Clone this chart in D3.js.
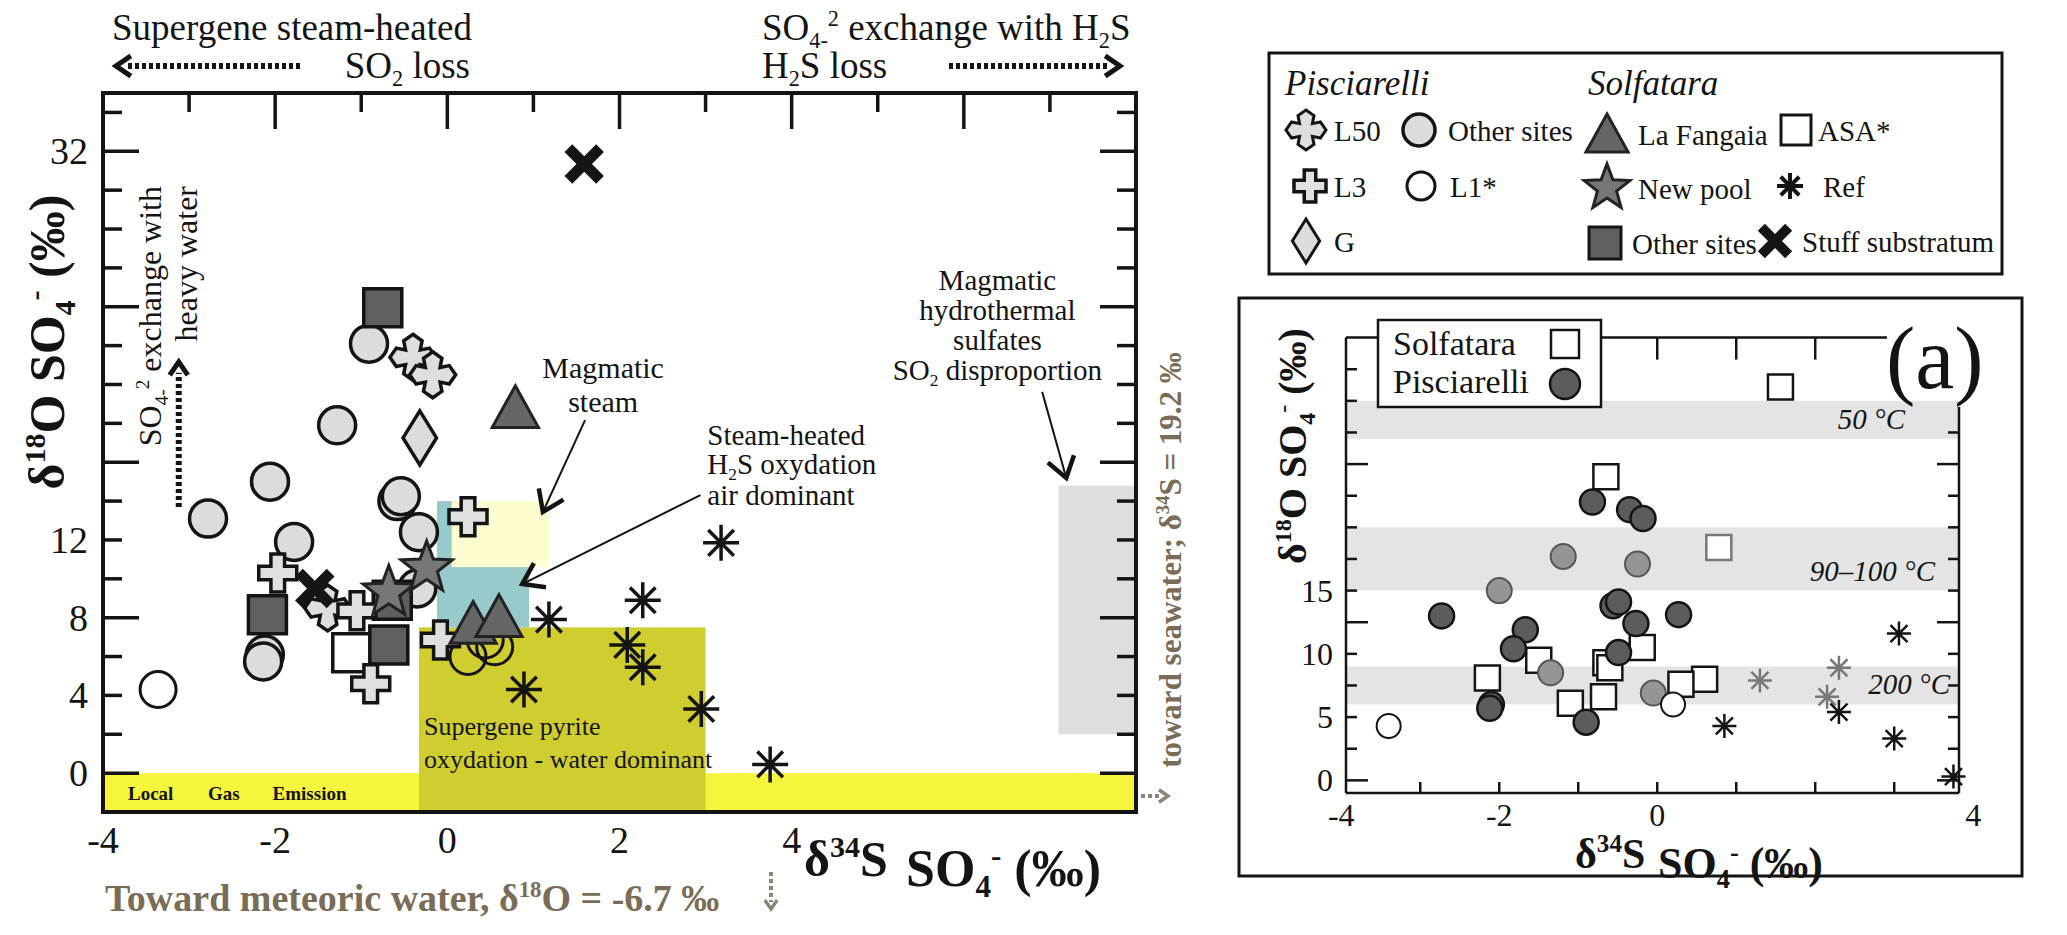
<!DOCTYPE html>
<html>
<head>
<meta charset="utf-8">
<script src="https://d3js.org/d3.v7.min.js"></script>
<style>
  body { margin: 0; background: #fff; }
  svg { display: block; }
  text { font-family: "Liberation Serif", "Times New Roman", serif; }
</style>
</head>
<body>
<svg width="2067" height="935"></svg>
<script>
// ---------- left panel data: [d34S, d18O] ----------
var l50 = [[-0.40, 21.4], [-0.17, 20.5], [-1.39, 8.5]];
var l3 = [[-1.97, 10.3], [-1.05, 8.35], [-0.89, 4.6], [-0.08, 6.85], [0.24, 13.2]];
var gSite = [[-0.32, 17.25]];
var pisOther = [[-0.91, 22.1], [-1.28, 17.9], [-2.06, 15.0], [-2.78, 13.1], [-0.58, 14.0], [-0.54, 14.25],
                [-0.33, 12.4], [-1.78, 11.9], [-2.12, 6.1], [-2.14, 5.75], [-0.35, 9.5]];
var l1 = [[-3.36, 4.3], [0.24, 6.0], [0.44, 6.85], [0.55, 6.5]];
var fangaia = [[0.79, 18.8], [0.30, 7.7], [0.60, 8.05]];
var newPool = [[-0.68, 9.3], [-0.24, 10.55]];
var asa = [[-1.11, 6.2]];
var solOther = [[-0.75, 23.95], [-2.09, 8.15], [-0.68, 6.6], [-0.64, 8.9]];
var ref = [[1.18, 7.9], [2.27, 8.9], [3.18, 11.85], [2.09, 6.6], [2.27, 5.45], [0.89, 4.3], [2.95, 3.3], [3.75, 0.45]];
var stuff = [[1.59, 31.35], [-1.54, 9.5]];

// zones [x0, x1, y0, y1]
var gasZone = [-4, 8, -2, 0];
var pyriteZone = [-0.33, 3.0, -2, 7.5];
var airZone = [-0.12, 0.95, 7.5, 14];
var steamZone = [0.05, 1.18, 10.6, 14];
var hydroZone = [7.1, 8, 2, 14.8];

var xTickLabels = [-4, -2, 0, 2, 4];
var yTickLabels = [0, 4, 8, 12, 32];

// ---------- right panel (a) data ----------
var rSolf = [[1.56, 31.1], [-0.65, 24.0], [-1.5, 9.5], [-2.15, 8.1], [-1.1, 6.1], [-0.65, 9.3], [-0.19, 10.5],
             [-0.6, 8.9], [-0.68, 6.6], [0.6, 8.0], [0.3, 7.6]];
var rSolfGrey = [[0.78, 18.4]];
var rPisDark = [[-0.82, 22.0], [-0.35, 21.4], [-0.18, 20.7], [-2.73, 13.0], [-1.67, 11.9], [-1.82, 10.4],
                [-0.56, 13.8], [-0.49, 14.1], [-0.27, 12.4], [0.27, 13.1], [-0.49, 10.1], [-2.1, 6.0],
                [-2.12, 5.7], [-0.9, 4.6]];
var rPisGrey = [[-1.19, 17.7], [-0.25, 17.1], [-2.0, 15.0], [-1.35, 8.5], [-0.05, 6.9]];
var rOpen = [[-3.4, 4.3], [0.2, 6.0]];
var rRefGrey = [[1.3, 7.9], [2.15, 6.6], [2.3, 8.9]];
var rRefBlack = [[0.85, 4.3], [2.3, 5.4], [3.06, 11.6], [3.0, 3.3], [3.75, 0.3]];
var rBands = [[6, 9, "200 °C"], [15, 20, "90–100 °C"], [27, 30, "50 °C"]];
var rXTickLabels = [-4, -2, 0, 4];
var rYTickLabels = [0, 5, 10, 15];

var svg = d3.select("svg");
var ink = "#141414";
var brown = "#7b6c57";

var x = d3.scaleLinear().domain([-4, 8]).range([103, 1136]);
var y = d3.scaleLinear().domain([-2, 35]).range([812, 93]);
var xr = d3.scaleLinear().domain([-3.94, 3.82]).range([1346, 1959]);
var yr = d3.scaleLinear().domain([-1, 35]).range([793, 337.6]);

// text with sub / superscripts
function rich(g, px, py, parts, o) {
  var t = g.append("text").attr("x", px).attr("y", py)
    .attr("font-size", o.size).attr("text-anchor", o.anchor || "start")
    .attr("font-weight", o.weight || "normal").attr("font-style", o.italic ? "italic" : "normal")
    .attr("fill", o.fill || ink);
  if (o.rotate) t.attr("transform", "rotate(" + o.rotate + "," + px + "," + py + ")");
  var cur = 0;
  parts.forEach(function (p) {
    var txt = typeof p === "string" ? p : p[0];
    var k = typeof p === "string" ? "n" : p[1];
    var off = k === "sub" ? 0.22 * o.size : k === "sup" ? -0.38 * o.size : 0;
    t.append("tspan").attr("dy", off - cur).attr("font-size", k === "n" ? o.size : o.size * 0.6).text(txt);
    cur = off;
  });
  return t;
}

function shapePath(type, s) {
  var p;
  if (type === "circle") return d3.symbol(d3.symbolCircle, Math.PI * s * s)();
  if (type === "square") return d3.symbol(d3.symbolSquare, 4 * s * s)();
  if (type === "diamond") p = [[0, -s], [0.62 * s, 0], [0, s], [-0.62 * s, 0]];
  if (type === "triangle") p = [[0, -s], [1.05 * s, 0.9 * s], [-1.05 * s, 0.9 * s]];
  if (type === "plus") {
    var w = 0.36 * s;
    p = [[-w, -s], [w, -s], [w, -w], [s, -w], [s, w], [w, w], [w, s], [-w, s], [-w, w], [-s, w], [-s, -w], [-w, -w]];
  }
  if (type === "l50") {
    p = [[0, -1], [0.4, -0.72], [0.32, -0.32], [0.72, -0.4], [1, 0], [0.72, 0.4], [0.32, 0.32], [0.4, 0.72],
         [0, 1], [-0.4, 0.72], [-0.32, 0.32], [-0.72, 0.4], [-1, 0], [-0.72, -0.4], [-0.32, -0.32], [-0.4, -0.72]]
      .map(function (q) { return [q[0] * s, q[1] * s]; });
  }
  if (type === "star") {
    p = d3.range(10).map(function (i) {
      var a = -Math.PI / 2 + i * Math.PI / 5, r = i % 2 ? 0.42 * s : s;
      return [r * Math.cos(a), r * Math.sin(a)];
    });
  }
  if (type === "x") {
    var a = 0.72 * s;
    return "M" + -a + "," + -a + "L" + a + "," + a + "M" + a + "," + -a + "L" + -a + "," + a;
  }
  if (type === "ast") {
    var d = 0.71 * s;
    return "M" + -s + ",0L" + s + ",0M0," + -s + "L0," + s + "M" + -d + "," + -d + "L" + d + "," + d +
           "M" + d + "," + -d + "L" + -d + "," + d;
  }
  return "M" + p.join("L") + "Z";
}

function drawMarks(g, data, xs, ys, type, s, fill, stroke, sw) {
  g.selectAll(null).data(data).enter().append("path")
    .attr("transform", function (d) { return "translate(" + xs(d[0]) + "," + ys(d[1]) + ")"; })
    .attr("d", shapePath(type, s))
    .attr("fill", fill).attr("stroke", stroke).attr("stroke-width", sw);
}

function mark(g, px, py, type, s, fill, stroke, sw) {
  g.append("path").attr("transform", "translate(" + px + "," + py + ")")
    .attr("d", shapePath(type, s)).attr("fill", fill).attr("stroke", stroke).attr("stroke-width", sw);
}

function head(g, x1, y1, x2, y2, len, sw, col) {
  var ang = Math.atan2(y2 - y1, x2 - x1);
  var p1 = [x2 - len * Math.cos(ang - 0.6), y2 - len * Math.sin(ang - 0.6)];
  var p2 = [x2 - len * Math.cos(ang + 0.6), y2 - len * Math.sin(ang + 0.6)];
  g.append("path").attr("d", "M" + p1 + "L" + [x2, y2] + "L" + p2)
    .attr("fill", "none").attr("stroke", col).attr("stroke-width", sw);
}

function arrow(g, x1, y1, x2, y2) {
  g.append("line").attr("x1", x1).attr("y1", y1).attr("x2", x2).attr("y2", y2)
    .attr("stroke", ink).attr("stroke-width", 2);
  head(g, x1, y1, x2, y2, 24, 4.5, ink);
}

function dotted(g, x1, y1, x2, y2, col, sw) {
  g.append("line").attr("x1", x1).attr("y1", y1).attr("x2", x2).attr("y2", y2)
    .attr("stroke", col).attr("stroke-width", sw).attr("stroke-dasharray", "4,3");
}

// ================= LEFT PANEL =================
var L = svg.append("g");

function zone(z, fill) {
  L.append("rect").attr("x", x(z[0])).attr("y", y(z[3]))
    .attr("width", x(z[1]) - x(z[0])).attr("height", y(z[2]) - y(z[3])).attr("fill", fill);
}
zone(gasZone, "#f6f53e");
zone(hydroZone, "#dedede");
zone(pyriteZone, "#cfcd2f");
zone(airZone, "#97cbcb");
zone(steamZone, "#fdfdd0");

// ticks
d3.range(-3, 8, 1).forEach(function (v) {
  L.append("line").attr("x1", x(v)).attr("x2", x(v)).attr("y1", y(35)).attr("y2", y(35) + (v % 2 === 0 ? 36 : 19))
    .attr("stroke", ink).attr("stroke-width", 3.5);
});
d3.range(0, 35, 2).forEach(function (v) {
  var len = v % 8 === 0 ? 36 : 19;
  L.append("line").attr("x1", x(-4)).attr("x2", x(-4) + len).attr("y1", y(v)).attr("y2", y(v))
    .attr("stroke", ink).attr("stroke-width", 3.5);
  L.append("line").attr("x1", x(8)).attr("x2", x(8) - len).attr("y1", y(v)).attr("y2", y(v))
    .attr("stroke", ink).attr("stroke-width", 3.5);
});

// zone labels
rich(L, x(-0.27), y(1.96), ["Supergene pyrite"], { size: 26 });
rich(L, x(-0.27), y(0.26), ["oxydation - water dominant"], { size: 26 });
[["Local", -3.71], ["Gas", -2.78], ["Emission", -2.03]].forEach(function (d) {
  rich(L, x(d[1]), y(-1.38), [d[0]], { size: 19, weight: "bold" });
});

// markers
drawMarks(L, pisOther, x, y, "circle", 18.5, "#dcdcdc", ink, 3.5);
drawMarks(L, l1, x, y, "circle", 18, "none", ink, 3);
drawMarks(L, l50, x, y, "l50", 23, "#dedede", ink, 3.5);
drawMarks(L, gSite, x, y, "diamond", 27, "#dcdcdc", ink, 3.5);
drawMarks(L, asa, x, y, "square", 19, "#fff", ink, 3.5);
drawMarks(L, solOther, x, y, "square", 19, "#5f5f5f", ink, 3.5);
drawMarks(L, l3, x, y, "plus", 19, "#e0e0e0", ink, 3.5);
drawMarks(L, fangaia, x, y, "triangle", 22, "#666", "#222", 3);
drawMarks(L, newPool, x, y, "star", 27, "#777", "#222", 3);
drawMarks(L, stuff, x, y, "x", 22, "none", "#151515", 11);
drawMarks(L, ref, x, y, "ast", 18, "none", ink, 3.5);

// annotations inside plot
rich(L, x(1.81), y(20.34), ["Magmatic"], { size: 30, anchor: "middle" });
rich(L, x(1.81), y(18.59), ["steam"], { size: 30, anchor: "middle" });
arrow(L, x(1.60), y(18.17), x(1.11), y(13.44));

rich(L, x(3.02), y(16.89), ["Steam-heated"], { size: 29 });
rich(L, x(3.02), y(15.40), ["H", ["2", "sub"], "S oxydation"], { size: 29 });
rich(L, x(3.02), y(13.80), ["air dominant"], { size: 29 });
arrow(L, x(2.94), y(14.31), x(0.87), y(9.73));

rich(L, x(6.39), y(24.87), ["Magmatic"], { size: 29, anchor: "middle" });
rich(L, x(6.39), y(23.32), ["hydrothermal"], { size: 29, anchor: "middle" });
rich(L, x(6.39), y(21.78), ["sulfates"], { size: 29, anchor: "middle" });
rich(L, x(6.39), y(20.23), ["SO", ["2", "sub"], " disproportion"], { size: 29, anchor: "middle" });
arrow(L, x(6.91), y(19.62), x(7.19), y(15.19));

// heavy water exchange
dotted(L, x(-3.12), y(13.7), x(-3.12), y(20.6), ink, 6);
head(L, x(-3.12), y(13.7), x(-3.12), y(21.16), 16, 5, ink);
rich(L, 161, 186, ["SO", ["4-", "sub"], ["2", "sup"], " exchange with"], { size: 32, anchor: "end", rotate: -90 });
rich(L, 197, 186, ["heavy water"], { size: 32, anchor: "end", rotate: -90 });

// frame
L.append("rect").attr("x", x(-4)).attr("y", y(35)).attr("width", x(8) - x(-4)).attr("height", y(-2) - y(35))
  .attr("fill", "none").attr("stroke", ink).attr("stroke-width", 4);

// tick labels
xTickLabels.forEach(function (v) {
  L.append("text").attr("x", x(v)).attr("y", 853).attr("text-anchor", "middle")
    .attr("font-size", 38).attr("fill", ink).text(String(v));
});
yTickLabels.forEach(function (v) {
  L.append("text").attr("x", 88).attr("y", y(v) + 13).attr("text-anchor", "end")
    .attr("font-size", 38).attr("fill", ink).text(String(v));
});

// axis titles
rich(L, 804, 876, ["δ", ["34", "sup"], "S"], { size: 50, weight: "bold" });
rich(L, 906, 886, ["SO", ["4", "sub"], ["-", "sup"], " (‰)"], { size: 52, weight: "bold" });
rich(L, 64, 342, ["δ", ["18", "sup"], "O SO", ["4", "sub"], ["-", "sup"], " (‰)"],
  { size: 50, weight: "bold", anchor: "middle", rotate: -90 });

// top texts
rich(L, 112, 40, ["Supergene steam-heated"], { size: 37 });
rich(L, 470, 78, ["SO", ["2", "sub"], " loss"], { size: 37, anchor: "end" });
dotted(L, 300, 66, 126, 66, ink, 6);
head(L, 300, 66, 116, 66, 18, 5, ink);
rich(L, 762, 40, ["SO", ["4-", "sub"], ["2", "sup"], " exchange with H", ["2", "sub"], "S"], { size: 37 });
rich(L, 762, 78, ["H", ["2", "sub"], "S loss"], { size: 37 });
dotted(L, 949, 66, 1110, 66, ink, 6);
head(L, 949, 66, 1120, 66, 18, 5, ink);

// seawater / meteoric notes
rich(L, 1181, 560, ["toward seawater; δ", ["34", "sup"], "S = 19.2 ‰"],
  { size: 31, weight: "bold", anchor: "middle", rotate: -90, fill: brown });
dotted(L, 1141, 796, 1162, 796, "#8c8578", 4);
head(L, 1141, 796, 1168, 796, 11, 3.5, "#8c8578");
rich(L, 105, 911, ["Toward meteoric water, δ", ["18", "sup"], "O = -6.7 ‰"],
  { size: 38, weight: "bold", fill: brown });
dotted(L, 771, 872, 771, 902, "#8c8578", 4);
head(L, 771, 872, 771, 909, 11, 3.5, "#8c8578");

// ================= LEGEND =================
var G = svg.append("g");
G.append("rect").attr("x", 1269).attr("y", 53).attr("width", 733).attr("height", 221)
  .attr("fill", "#fff").attr("stroke", ink).attr("stroke-width", 3);
rich(G, 1285, 95, ["Pisciarelli"], { size: 35, italic: true });
rich(G, 1588, 95, ["Solfatara"], { size: 35, italic: true });

var legendLabels = ["L50", "Other sites", "La Fangaia", "ASA*", "L3", "L1*", "New pool", "Ref", "G", "Other sites", "Stuff substratum"];
var legendSpec = [
  [1306, 130, "l50", 20, "#dedede", ink, 3, 1334],
  [1419, 130, "circle", 16, "#dcdcdc", ink, 3.5, 1448],
  [1607, 134, "triangle", 20, "#666", "#222", 3, 1638],
  [1796, 130, "square", 15, "#fff", ink, 3, 1818],
  [1310, 186, "plus", 16, "#e0e0e0", ink, 3.5, 1334],
  [1421, 186, "circle", 14, "none", ink, 3, 1450],
  [1607, 188, "star", 24, "#777", "#222", 3, 1638],
  [1790, 186, "ast", 13, "none", ink, 4, 1823],
  [1306, 241, "diamond", 22, "#dcdcdc", ink, 3, 1334],
  [1605, 243, "square", 16, "#5f5f5f", ink, 3, 1632],
  [1775, 241, "x", 19, "none", "#151515", 10, 1802]
];
legendSpec.forEach(function (s, i) {
  mark(G, s[0], s[1], s[2], s[3], s[4], s[5], s[6]);
  G.append("text").attr("x", s[7]).attr("y", s[1] + 11).attr("font-size", 29).attr("fill", ink).text(legendLabels[i]);
});

// ================= RIGHT PANEL (a) =================
var R = svg.append("g");
R.append("rect").attr("x", 1239).attr("y", 298).attr("width", 783).attr("height", 578)
  .attr("fill", "#fff").attr("stroke", ink).attr("stroke-width", 3);

rBands.forEach(function (b) {
  R.append("rect").attr("x", xr(-3.94)).attr("y", yr(b[1])).attr("width", xr(3.82) - xr(-3.94))
    .attr("height", yr(b[0]) - yr(b[1])).attr("fill", "#e4e4e4");
});
rBands.forEach(function (b) {
  var right = b[1] > 25 ? 1905 : b[1] > 12 ? 1935 : 1950;
  R.append("text").attr("x", right).attr("y", yr(b[0]) - 10).attr("text-anchor", "end")
    .attr("font-size", 29).attr("font-style", "italic").attr("fill", ink).text(b[2]);
});

drawMarks(R, rSolf, xr, yr, "square", 12.5, "#fff", ink, 2.5);
drawMarks(R, rSolfGrey, xr, yr, "square", 12.5, "#fff", "#777", 2.5);
drawMarks(R, rPisGrey, xr, yr, "circle", 12.5, "#959595", "#555", 2);
drawMarks(R, rPisDark, xr, yr, "circle", 12.5, "#5c5c5c", ink, 2.5);
drawMarks(R, rOpen, xr, yr, "circle", 12, "#fff", ink, 2);
drawMarks(R, rRefGrey, xr, yr, "ast", 12, "none", "#777", 2.5);
drawMarks(R, rRefBlack, xr, yr, "ast", 12, "none", ink, 2.5);

// axes of (a)
var axW = 2.5;
R.append("line").attr("x1", xr(-3.94)).attr("x2", 1887).attr("y1", yr(35)).attr("y2", yr(35)).attr("stroke", ink).attr("stroke-width", axW);
R.append("line").attr("x1", xr(-3.94)).attr("x2", xr(-3.94)).attr("y1", yr(35)).attr("y2", yr(-1)).attr("stroke", ink).attr("stroke-width", axW);
R.append("line").attr("x1", xr(3.82)).attr("x2", xr(3.82)).attr("y1", 407).attr("y2", yr(-1)).attr("stroke", ink).attr("stroke-width", axW);
R.append("line").attr("x1", xr(-3.94)).attr("x2", xr(3.82)).attr("y1", yr(-1)).attr("y2", yr(-1)).attr("stroke", ink).attr("stroke-width", axW);
d3.range(-3, 3, 1).forEach(function (v) {
  R.append("line").attr("x1", xr(v)).attr("x2", xr(v)).attr("y1", yr(35)).attr("y2", yr(35) + 22).attr("stroke", ink).attr("stroke-width", axW);
});
d3.range(-3, 4, 1).forEach(function (v) {
  R.append("line").attr("x1", xr(v)).attr("x2", xr(v)).attr("y1", yr(-1)).attr("y2", yr(-1) - 11).attr("stroke", ink).attr("stroke-width", axW);
});
d3.range(0, 34, 2.5).forEach(function (v) {
  var len = v % 12.5 === 0 ? 22 : 11;
  R.append("line").attr("x1", xr(-3.94)).attr("x2", xr(-3.94) + len).attr("y1", yr(v)).attr("y2", yr(v)).attr("stroke", ink).attr("stroke-width", axW);
  if (yr(v) > 410) {
    R.append("line").attr("x1", xr(3.82)).attr("x2", xr(3.82) - len).attr("y1", yr(v)).attr("y2", yr(v)).attr("stroke", ink).attr("stroke-width", axW);
  }
});
rXTickLabels.forEach(function (v) {
  R.append("text").attr("x", xr(v)).attr("y", 826).attr("text-anchor", "middle").attr("font-size", 32).attr("fill", ink).text(String(v));
});
rYTickLabels.forEach(function (v) {
  R.append("text").attr("x", 1333).attr("y", yr(v) + 11).attr("text-anchor", "end").attr("font-size", 32).attr("fill", ink).text(String(v));
});

// legend of (a)
R.append("rect").attr("x", 1378).attr("y", 320).attr("width", 223).attr("height", 87)
  .attr("fill", "#fff").attr("stroke", ink).attr("stroke-width", 2.5);
rich(R, 1393, 355, ["Solfatara"], { size: 34 });
rich(R, 1393, 393, ["Pisciarelli"], { size: 34 });
mark(R, 1565, 344, "square", 14, "#fff", ink, 2.5);
mark(R, 1565, 384, "circle", 15, "#5c5c5c", ink, 2.5);

R.append("text").attr("x", 1886).attr("y", 388).attr("font-size", 88).attr("fill", ink).text("(a)");

rich(R, 1306, 446, ["δ", ["18", "sup"], "O SO", ["4", "sub"], ["-", "sup"], " (‰)"],
  { size: 40, weight: "bold", anchor: "middle", rotate: -90 });
rich(R, 1575, 868, ["δ", ["34", "sup"], "S"], { size: 42, weight: "bold" });
rich(R, 1658, 878, ["SO", ["4", "sub"], ["-", "sup"], " (‰)"], { size: 44, weight: "bold" });
</script>
</body>
</html>
